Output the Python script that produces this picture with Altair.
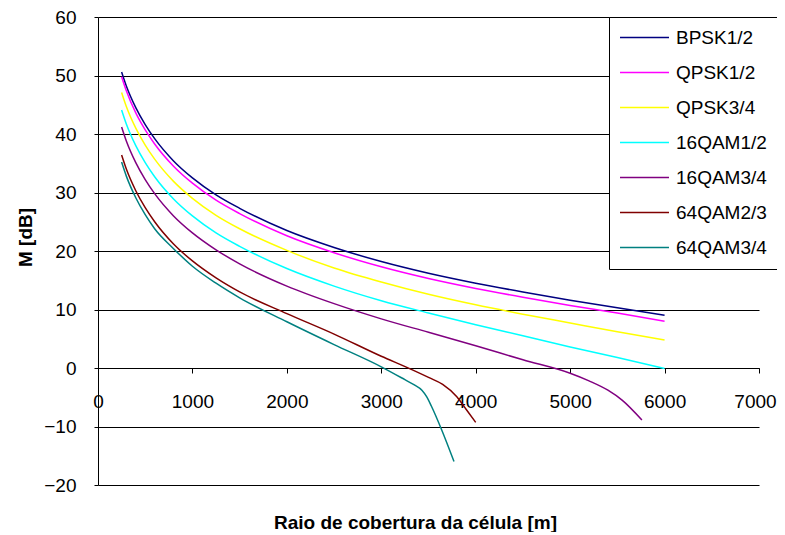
import altair as alt
import pandas as pd

series = ["BPSK1/2", "QPSK1/2", "QPSK3/4", "16QAM1/2", "16QAM3/4", "64QAM2/3", "64QAM3/4"]
colors = ["#000080", "#FF00FF", "#FFFF00", "#00FFFF", "#800080", "#800000", "#008080"]

x_full = [250, 300, 400, 500, 600, 800, 1000, 1250, 1500, 2000, 2500, 3000, 3500, 4000, 4500, 5000, 5500, 6000]
bpsk12 = [50.6, 48.2, 44.5, 41.6, 39.2, 35.4, 32.5, 29.6, 27.3, 23.5, 20.6, 18.2, 16.2, 14.5, 13.0, 11.6, 10.3, 9.0]
qpsk12 = [49.8, 47.4, 43.6, 40.7, 38.3, 34.5, 31.6, 28.7, 26.4, 22.6, 19.7, 17.3, 15.3, 13.6, 12.1, 10.7, 9.4, 8.0]
qpsk34 = [47.1, 44.7, 41.0, 38.1, 35.7, 31.9, 29.0, 26.1, 23.8, 20.1, 17.1, 14.7, 12.6, 10.8, 9.2, 7.7, 6.2, 4.8]
qam16_12 = [44.1, 41.7, 38.0, 35.1, 32.7, 28.9, 26.0, 23.1, 20.8, 17.0, 14.0, 11.5, 9.4, 7.4, 5.5, 3.6, 1.8, -0.1]

x_qam16_34 = [250, 300, 400, 500, 600, 800, 1000, 1250, 1500, 2000, 2500, 3000, 3500, 4000, 4500, 5000, 5200, 5400, 5550, 5760]
qam16_34 = [41.2, 38.8, 35.1, 32.2, 29.8, 26.0, 23.1, 20.2, 17.8, 14.0, 11.0, 8.4, 6.1, 3.8, 1.4, -0.9, -2.2, -3.8, -5.5, -8.9]

x_qam64_23 = [250, 300, 400, 500, 600, 800, 1000, 1250, 1500, 2000, 2500, 3000, 3300, 3500, 3650, 3800, 3900, 4000]
qam64_23 = [36.4, 34.0, 30.3, 27.4, 25.0, 21.2, 18.3, 15.4, 13.0, 9.3, 5.8, 2.0, -0.1, -1.6, -2.8, -4.9, -7.1, -9.3]

x_qam64_34 = [250, 300, 400, 500, 600, 800, 1000, 1250, 1500, 2000, 2500, 3000, 3250, 3350, 3430, 3480, 3530, 3640, 3770]
qam64_34 = [35.2, 32.8, 29.1, 26.2, 23.8, 20.4, 17.4, 14.5, 12.0, 7.9, 4.0, 0.2, -2.0, -2.9, -3.8, -4.9, -6.5, -10.6, -16.0]

x_ticks = [0, 1000, 2000, 3000, 4000, 5000, 6000, 7000]
y_ticks = [-20, -10, 0, 10, 20, 30, 40, 50, 60]

xs = [x_full, x_full, x_full, x_full, x_qam16_34, x_qam64_23, x_qam64_34]
ys = [bpsk12, qpsk12, qpsk34, qam16_12, qam16_34, qam64_23, qam64_34]

rows = []
for s, xv, yv in zip(series, xs, ys):
    for i, (a, b) in enumerate(zip(xv, yv)):
        rows.append({"series": s, "r": a, "m": b, "i": i})
df = pd.DataFrame(rows)

FONT = "Liberation Sans"

chart = alt.Chart(df).mark_line(strokeWidth=1.5, interpolate="monotone").encode(
    x=alt.X("r:Q",
            scale=alt.Scale(domain=[0, 7000], nice=False, zero=False),
            axis=alt.Axis(values=x_ticks, format="d", offset=-117, grid=False, tickSize=5,
                          labelPadding=19, labelFont=FONT, labelFontSize=19,
                          labelColor="black", domainColor="black", tickColor="black",
                          labelFlush=False, labelOverlap=False,
                          labelOffset=alt.condition("datum.value == 7000", alt.value(-4), alt.value(0)),
                          title="Raio de cobertura da célula [m]",
                          titleFont=FONT, titleFontSize=19, titleFontWeight="bold",
                          titleColor="black", titleX=317, titleY=160,
                          titleBaseline="alphabetic", titleAlign="center")),
    y=alt.Y("m:Q",
            scale=alt.Scale(domain=[-20, 60], nice=False, zero=False),
            axis=alt.Axis(values=y_ticks, format="d", grid=True, gridColor="black", gridWidth=1,
                          gridOpacity=1, tickSize=4, labelPadding=18,
                          labelFont=FONT, labelFontSize=19, labelColor="black",
                          domainColor="black", tickColor="black",
                          labelFlush=False, labelOverlap=False,
                          title="M [dB]", titleFont=FONT, titleFontSize=19,
                          titleFontWeight="bold", titleColor="black",
                          titleX=-67, titleY=220, titleAngle=270,
                          titleBaseline="alphabetic", titleAlign="center")),
    color=alt.Color("series:N", sort=series,
                    scale=alt.Scale(domain=series, range=colors),
                    legend=alt.Legend(orient="none", legendX=511, legendY=0, title=None,
                                      symbolType="M-4,0H4", symbolSize=150,
                                      symbolOffset=15,
                                      symbolStrokeWidth=1.5, labelFont=FONT,
                                      labelFontSize=19, labelColor="black",
                                      labelOffset=22, rowPadding=15, padding=11,
                                      fillColor="white", strokeColor="black")),
    order=alt.Order("i:Q"),
).properties(
    width=661, height=468,
    autosize=alt.AutoSizeParams(type="none"),
    padding={"left": 90, "top": 9, "right": 18, "bottom": 47},
).configure_view(stroke=None)

chart.save("out.html", embed_options={"renderer": "svg", "actions": False})
